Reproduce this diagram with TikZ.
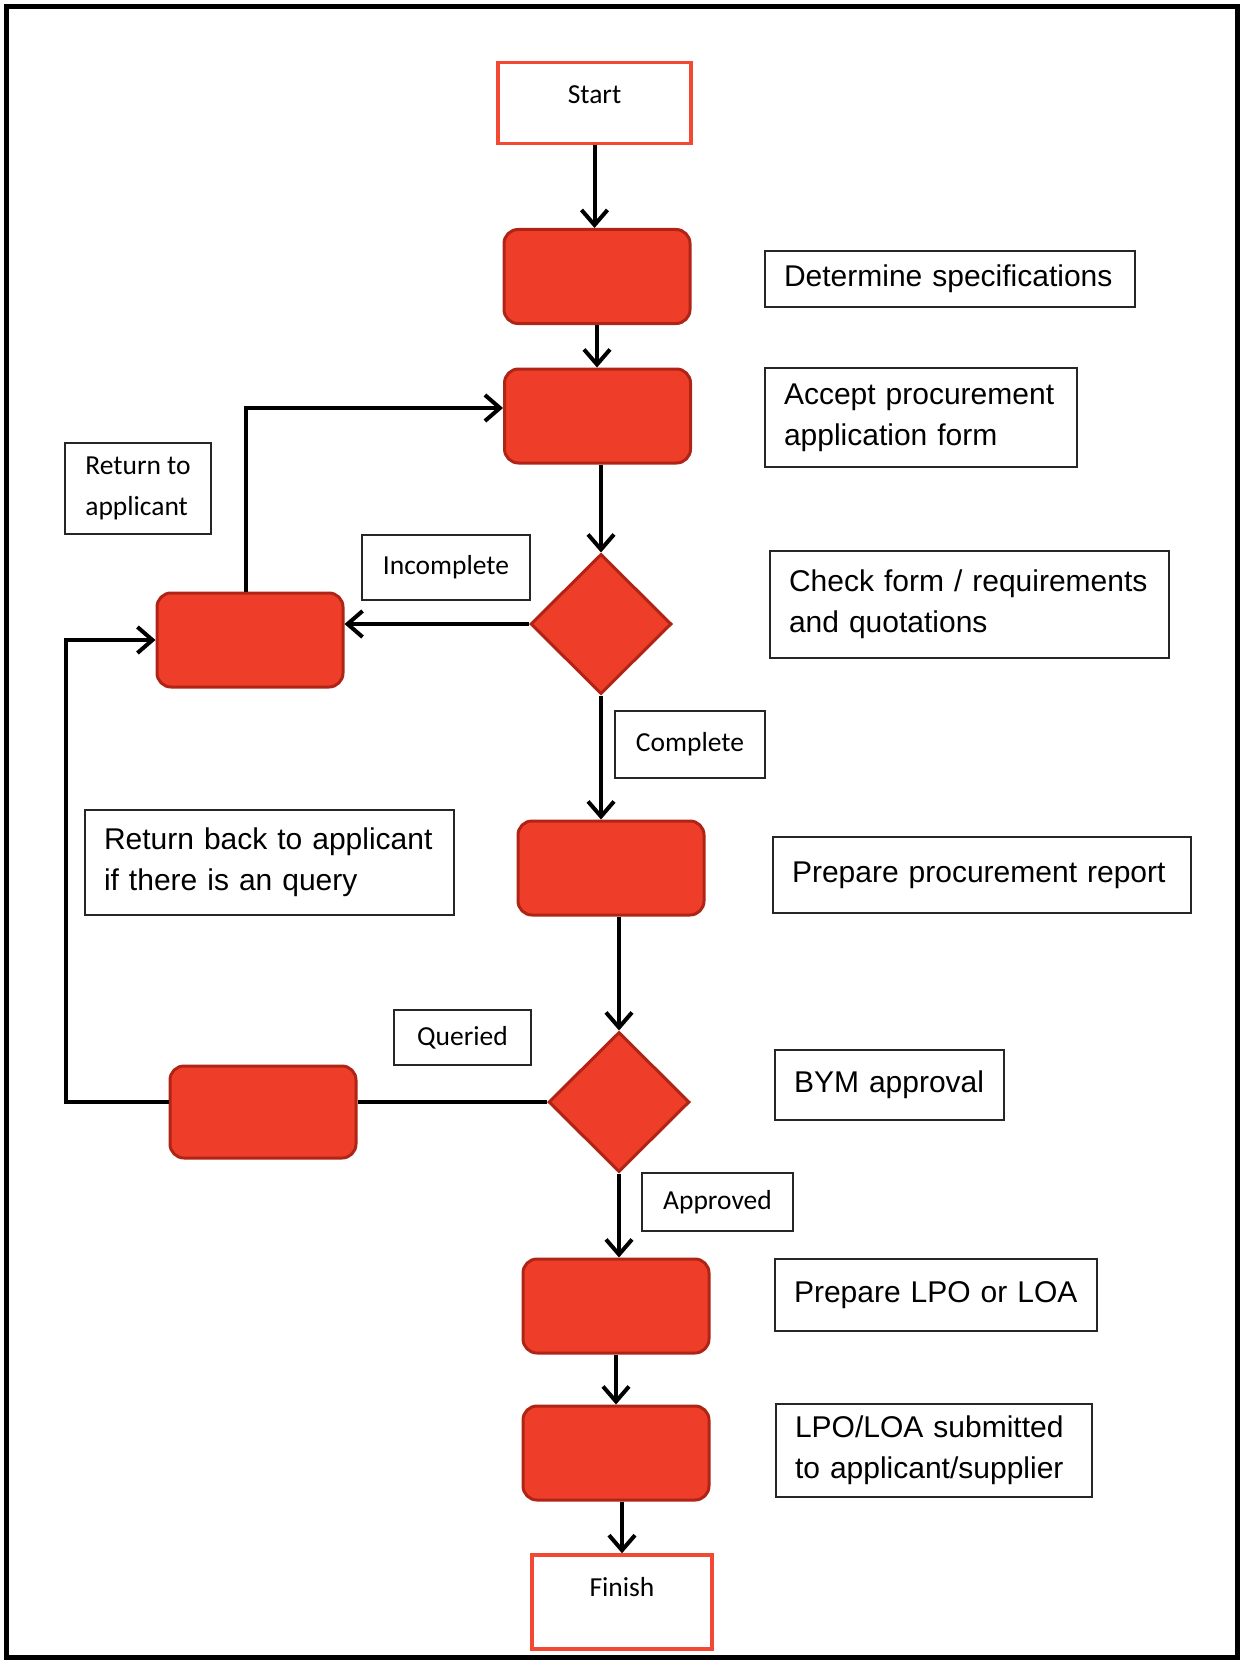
\documentclass[tikz,border=0pt]{standalone}
\usepackage{fontspec}
\setmainfont{Liberation Sans}
\newfontfamily\calfont{Carlito}
\usetikzlibrary{shapes.geometric,arrows.meta}
\definecolor{procfill}{RGB}{238,62,42}
\definecolor{procline}{RGB}{176,36,22}
\definecolor{termline}{RGB}{242,72,52}
\begin{document}
\begin{tikzpicture}[x=1pt,y=-1pt,
  proc/.style={rectangle, rounded corners=14pt, fill=procfill, draw=procline, line width=3pt,
    minimum width=186pt, minimum height=94pt, inner sep=0pt},
  decide/.style={diamond, aspect=1, fill=procfill, draw=procline, line width=3pt,
    minimum width=141pt, minimum height=140pt, inner sep=0pt},
  term/.style={rectangle, fill=white, draw=termline, line width=3.5pt, inner sep=0pt,
    font=\calfont\fontsize{27.5}{41}\selectfont},
  note/.style={rectangle, fill=white, draw=black!85, line width=1.5pt, align=left,
    inner xsep=19pt, inner ysep=0pt, font=\fontsize{30}{41}\selectfont},
  tag/.style={rectangle, fill=white, draw=black!85, line width=1.5pt, align=left,
    inner sep=0pt, font=\calfont\fontsize{27.5}{41}\selectfont},
  cond/.style={rectangle, fill=white, draw=black!85, line width=1.5pt, align=center,
    inner sep=0pt, font=\calfont\fontsize{27.5}{41}\selectfont},
  flow/.style={line width=4pt, draw=black},
  arr/.style={flow, -{Straight Barb[length=15pt,width=26pt,line width=4pt]}}
]
\useasboundingbox (0,0) rectangle (1245,1661);
\draw[line width=5pt] (6,7) rectangle (1237,1657);

% main flow
\node[term, minimum width=193pt, minimum height=81pt,
      label={[font=\calfont\fontsize{27.5}{41}\selectfont, yshift=8pt]center:Start}] (start) at (594.5,103) {};
\node[proc] (box1) at (597,276.5) {};
\node[proc] (box2) at (597.5,416) {};
\node[decide] (dia1) at (601,624) {};
\node[proc] (boxL1) at (250,640) {};
\node[proc] (box3) at (611,868) {};
\node[decide] (dia2) at (619,1102) {};
\node[proc, minimum height=92pt] (boxL2) at (263,1112) {};
\node[proc] (box4) at (616,1306) {};
\node[proc] (box5) at (616,1453) {};
\node[term, minimum width=180pt, minimum height=94pt,
      label={[font=\calfont\fontsize{27.5}{41}\selectfont, yshift=15pt]center:Finish}] (finish) at (622,1602) {};

\coordinate (loopx) at (66,0);

% connectors
\draw[arr] (start.south) -- (start.south |- box1.north);
\draw[arr] (box1.south) -- (box1.south |- box2.north);
\draw[arr] (box2.south -| dia1.north) -- (dia1.north);
\draw[arr] (dia1.west) -- (dia1.west -| boxL1.east);
\draw[arr] ([xshift=-4pt]boxL1.north) |- ([yshift=8pt]box2.west);
\draw[arr] (dia1.south) -- (dia1.south |- box3.north);
\draw[arr] (box3.south -| dia2.north) -- (dia2.north);
\draw[flow] (dia2.west) -- (dia2.west -| boxL2.east);
\draw[arr] (dia2.west -| boxL2.west) -- (dia2.west -| loopx) |- (boxL1.west);
\draw[arr] (dia2.south) -- (dia2.south |- box4.north);
\draw[arr] (box4.south) -- (box4.south |- box5.north);
\draw[arr] (box5.south -| finish.north) -- (finish.north);

% descriptions
\node[note, text width=332pt, minimum height=56pt] (n1) at (950,279) {Determine specifications};
\node[note, text width=274pt, minimum height=99pt] (n2) at (921,417.5) {Accept procurement\\application form};
\node[note, text width=361pt, minimum height=107pt] (n3) at (969.5,604.5) {Check form / requirements\\and quotations};
\node[note, text width=380pt, minimum height=76pt] (n4) at (982,875) {Prepare procurement report};
\node[note, text width=191pt, minimum height=70pt] (n5) at (889.5,1085) {BYM approval};
\node[note, text width=284pt, minimum height=72pt] (n6) at (936,1295) {Prepare LPO or LOA};
\node[note, text width=278pt, minimum height=93pt] (n7) at (934,1450.5) {LPO/LOA submitted\\to applicant/supplier};
\node[note, text width=331pt, minimum height=105pt] (n8) at (269.5,862.5) {Return back to applicant\\if there is an query};
\node[tag, minimum width=146pt, minimum height=91pt] (n9) at (138,488.5) {Return to\\applicant};

% condition labels
\node[cond, minimum width=168pt, minimum height=65pt] (c1) at (446,567.5) {Incomplete};
\node[cond, minimum width=150pt, minimum height=67pt] (c2) at (690,744.5) {Complete};
\node[cond, minimum width=137pt, minimum height=55pt] (c3) at (462.5,1037.5) {Queried};
\node[cond, minimum width=151pt, minimum height=58pt] (c4) at (717.5,1202) {Approved};
\end{tikzpicture}
\end{document}
